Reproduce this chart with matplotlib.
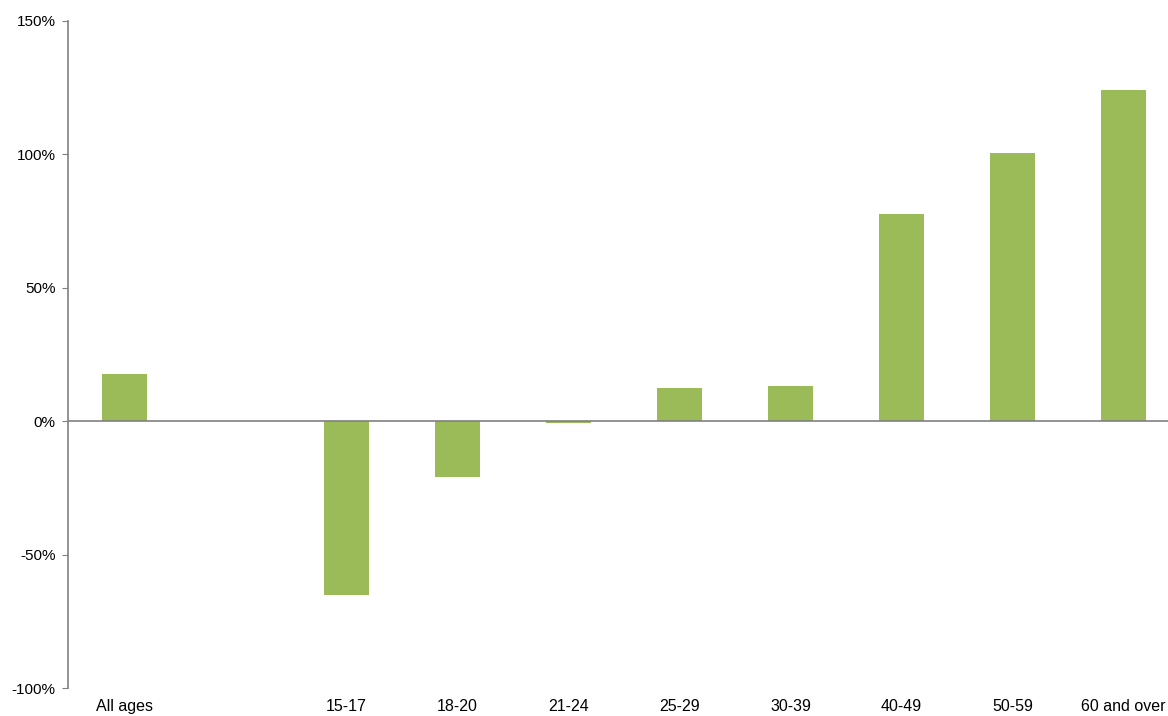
import matplotlib.pyplot as plt
from matplotlib.ticker import FuncFormatter

plt.rcParams['font.family'] = ['Liberation Sans', 'DejaVu Sans']

# Change by age group
categories = ['All ages', '', '15-17', '18-20', '21-24', '25-29', '30-39', '40-49', '50-59', '60 and over']
values = [17.6, None, -65.2, -21.0, -0.5, 12.4, 13.1, 77.5, 100.4, 124.0]
y_ticks = [-100, -50, 0, 50, 100, 150]

fig = plt.figure(figsize=(11.68, 7.16), dpi=100)
ax = fig.add_axes([68 / 1168, 1 - 688 / 716, 1 - 68 / 1168, (688 - 21) / 716])

xs = [i for i, v in enumerate(values) if v is not None]
vals = [v for v in values if v is not None]
ax.bar(xs, vals, width=0.41, color='#9BBB59', zorder=2)

# Zero line
ax.axhline(0, color='#808080', linewidth=1.2, zorder=3)

ax.set_xlim(-0.51, 9.40)
ax.set_ylim(-100, 150)
ax.set_yticks(y_ticks)
ax.yaxis.set_major_formatter(FuncFormatter(lambda v, p: f'{v:.0f}%'))
ax.set_xticks(range(len(categories)))
ax.set_xticklabels(categories)

for s in ['top', 'right', 'bottom']:
    ax.spines[s].set_visible(False)
ax.spines['left'].set_color('#808080')
ax.spines['left'].set_linewidth(1.2)

ax.tick_params(axis='y', direction='out', length=4, color='#808080', labelsize=11, pad=5)
ax.tick_params(axis='x', length=0, labelsize=11.5, pad=8)

fig.savefig('out.png', dpi=100)
